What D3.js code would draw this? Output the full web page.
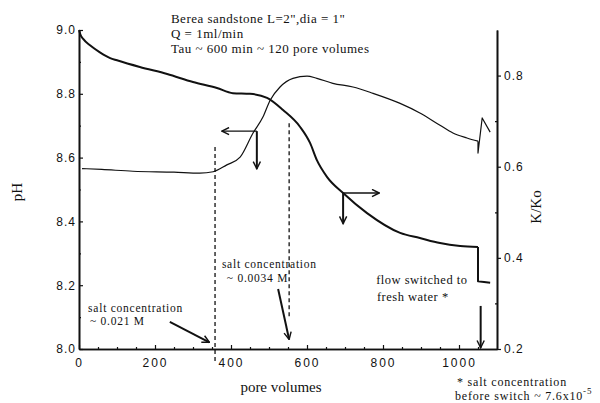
<!DOCTYPE html>
<html>
<head>
<meta charset="utf-8">
<script src="https://cdn.jsdelivr.net/npm/d3@7"></script>
<style>
  body { margin: 0; background: #fff; }
  svg { display: block; }
  .tick text { font-family: "Liberation Sans", Arial, sans-serif; font-size: 12px; fill: #111; letter-spacing: 1px; }
  .xax .tick text { letter-spacing: 2px; }
  .lbl { font-family: "Liberation Serif", "Times New Roman", serif; fill: #111; }
</style>
</head>
<body>
<svg width="600" height="403"></svg>
<script>
// pH curve (thick line, left axis)
var phPv = [0, 4, 11, 29, 55, 82, 100, 160, 232, 300, 363, 405, 450, 495, 537, 582, 608, 626, 653, 695, 758, 845, 897, 950, 1003, 1050, 1050, 1066, 1082];
var phVal = [9.0, 8.985, 8.972, 8.952, 8.93, 8.912, 8.905, 8.884, 8.862, 8.837, 8.818, 8.802, 8.800, 8.787, 8.749, 8.696, 8.646, 8.592, 8.539, 8.489, 8.426, 8.364, 8.348, 8.332, 8.323, 8.320, 8.212, 8.210, 8.208];

// K/Ko curve (thin line, right axis)
var kPv = [8, 60, 142, 250, 318, 353, 389, 424, 458, 484, 503, 529, 563, 600, 626, 668, 721, 774, 845, 897, 950, 984, 1021, 1050, 1050, 1061, 1082];
var kVal = [0.596, 0.594, 0.590, 0.588, 0.586, 0.589, 0.604, 0.621, 0.674, 0.709, 0.746, 0.775, 0.794, 0.799, 0.794, 0.783, 0.775, 0.761, 0.739, 0.718, 0.691, 0.674, 0.663, 0.656, 0.630, 0.707, 0.676];

// pore volume where flow was switched to fresh water
var switchPv = 1050;

// tick values
var xMajor = [0, 200, 400, 600, 800, 1000];
var xMinor = [50, 100, 150, 250, 300, 350, 450, 500, 550, 650, 700, 750, 850, 900, 950, 1050];
var phMajor = [8.0, 8.2, 8.4, 8.6, 8.8, 9.0];
var phMinor = [8.1, 8.3, 8.5, 8.7, 8.9];
var kMajor = [0.2, 0.4, 0.6, 0.8];
var kMinor = [0.3, 0.5, 0.7];

// dashed markers for salt changes (pore volumes)
var saltPv = [358, 553];
var saltTop = [8.633, 8.708];
var saltBottom = [7.956, 8.097];

var svg = d3.select("svg");

var x = d3.scaleLinear().domain([0, 1100]).range([79, 497]);
var yPh = d3.scaleLinear().domain([8.0, 9.0]).range([349, 30]);
var yK = d3.scaleLinear().domain([0.2, 0.9]).range([349, 30]);

// arrow head
svg.append("defs").append("marker")
  .attr("id", "head")
  .attr("viewBox", "0 0 10 10")
  .attr("refX", 9)
  .attr("refY", 5)
  .attr("markerWidth", 9)
  .attr("markerHeight", 9)
  .attr("markerUnits", "userSpaceOnUse")
  .attr("orient", "auto")
  .append("path")
  .attr("d", "M1,1 L9,5 L1,9")
  .attr("fill", "none")
  .attr("stroke", "#111")
  .attr("stroke-width", 1.6);

// axes
svg.append("g").attr("class", "xax").attr("transform", "translate(0,349)")
  .call(d3.axisBottom(x).tickValues(xMajor).tickSizeInner(-4).tickSizeOuter(0).tickPadding(9).tickFormat(d3.format("d")));
svg.append("g").attr("transform", "translate(0,349)")
  .call(d3.axisBottom(x).tickValues(xMinor).tickSizeInner(-2).tickSizeOuter(0).tickFormat(""));

svg.append("g").attr("transform", "translate(79,0)")
  .call(d3.axisLeft(yPh).tickValues(phMajor).tickSizeInner(-4).tickSizeOuter(0).tickPadding(3).tickFormat(d3.format(".1f")));
svg.append("g").attr("transform", "translate(79,0)")
  .call(d3.axisLeft(yPh).tickValues(phMinor).tickSizeInner(-2).tickSizeOuter(0).tickFormat(""));

svg.append("g").attr("transform", "translate(497,0)")
  .call(d3.axisRight(yK).tickValues(kMajor).tickSizeInner(4).tickSizeOuter(0).tickPadding(3).tickFormat(d3.format(".1f")));
svg.append("g").attr("transform", "translate(497,0)")
  .call(d3.axisRight(yK).tickValues(kMinor).tickSizeInner(-2).tickSizeOuter(0).tickFormat(""));

svg.selectAll(".domain").attr("stroke", "#111").attr("stroke-width", 1.6);
svg.selectAll(".tick line").attr("stroke", "#111").attr("stroke-width", 1.2);

// curves: smooth up to the switch, straight segments after it
function drawCurve(pvs, vals, yScale, w) {
  var pts = d3.zip(pvs, vals);
  var cut = pvs.indexOf(switchPv);
  var smooth = d3.line()
    .x(function (d) { return x(d[0]); })
    .y(function (d) { return yScale(d[1]); })
    .curve(d3.curveMonotoneX);
  var straight = d3.line()
    .x(function (d) { return x(d[0]); })
    .y(function (d) { return yScale(d[1]); });

  svg.append("path")
    .datum(pts.slice(0, cut + 1))
    .attr("d", smooth)
    .attr("fill", "none")
    .attr("stroke", "#111")
    .attr("stroke-width", w);
  svg.append("path")
    .datum(pts.slice(cut))
    .attr("d", straight)
    .attr("fill", "none")
    .attr("stroke", "#111")
    .attr("stroke-width", w)
    .attr("stroke-linejoin", "round");
}

drawCurve(phPv, phVal, yPh, 2);
drawCurve(kPv, kVal, yK, 1.2);

// dashed lines
svg.selectAll(".salt")
  .data(saltPv)
  .enter()
  .append("line")
  .attr("x1", function (d) { return x(d); })
  .attr("x2", function (d) { return x(d); })
  .attr("y1", function (d, i) { return yPh(saltTop[i]); })
  .attr("y2", function (d, i) { return yPh(saltBottom[i]); })
  .attr("stroke", "#111")
  .attr("stroke-width", 1.3)
  .attr("stroke-dasharray", "4,3");

// arrows, given in [pv, pH] pairs
function arrow(a, b, w) {
  svg.append("line")
    .attr("x1", x(a[0])).attr("y1", yPh(a[1]))
    .attr("x2", x(b[0])).attr("y2", yPh(b[1]))
    .attr("stroke", "#111")
    .attr("stroke-width", w)
    .attr("marker-end", "url(#head)");
}

arrow([468, 8.683], [376, 8.683], 1.3);
arrow([468, 8.683], [468, 8.565], 2);
arrow([695, 8.489], [790, 8.489], 1.3);
arrow([695, 8.489], [695, 8.393], 2);
arrow([239, 8.085], [343, 8.021], 2);
arrow([524, 8.188], [553, 8.030], 2);
arrow([1057, 8.135], [1057, 8.004], 2);

// text
function label(pv, ph, txt, size, sp) {
  return svg.append("text")
    .attr("class", "lbl")
    .attr("x", x(pv))
    .attr("y", yPh(ph))
    .attr("font-size", size + "px")
    .attr("letter-spacing", sp)
    .text(txt);
}

label(242, 9.022, "Berea sandstone L=2\",dia = 1\"", 13, 0.5);
label(242, 8.975, "Q = 1ml/min", 13, 0.5);
label(242, 8.928, "Tau ~ 600 min ~ 120 pore volumes", 13, 0.5);

label(24, 8.117, "salt concentration", 11.5, 0.75);
label(29, 8.075, "~ 0.021 M", 11.5, 0.75);
label(376, 8.253, "salt concentration", 11.5, 0.75);
label(389, 8.211, "~ 0.0034 M", 11.5, 0.75);
label(782, 8.203, "flow switched to", 12.5, 0.5);
label(784, 8.152, "fresh water *", 12.5, 0.5);

svg.append("text").attr("class", "lbl")
  .attr("x", 457).attr("y", 386)
  .attr("font-size", "12px")
  .attr("letter-spacing", 0.8)
  .text("* salt concentration");
var fn = svg.append("text").attr("class", "lbl")
  .attr("x", 455).attr("y", 400)
  .attr("font-size", "12px")
  .attr("letter-spacing", 0.8)
  .text("before switch ~ 7.6x10");
fn.append("tspan").attr("dy", -6).attr("font-size", "9px").text("-5");

// axis titles
svg.append("text").attr("class", "lbl")
  .attr("x", 281).attr("y", 392)
  .attr("text-anchor", "middle")
  .attr("font-size", "15px")
  .text("pore volumes");

svg.append("text").attr("class", "lbl")
  .attr("transform", "translate(22,192) rotate(-90)")
  .attr("text-anchor", "middle")
  .attr("font-size", "15px")
  .text("pH");

svg.append("text").attr("class", "lbl")
  .attr("transform", "translate(541,207) rotate(-90)")
  .attr("text-anchor", "middle")
  .attr("font-size", "15px")
  .text("K/Ko");
</script>
</body>
</html>
